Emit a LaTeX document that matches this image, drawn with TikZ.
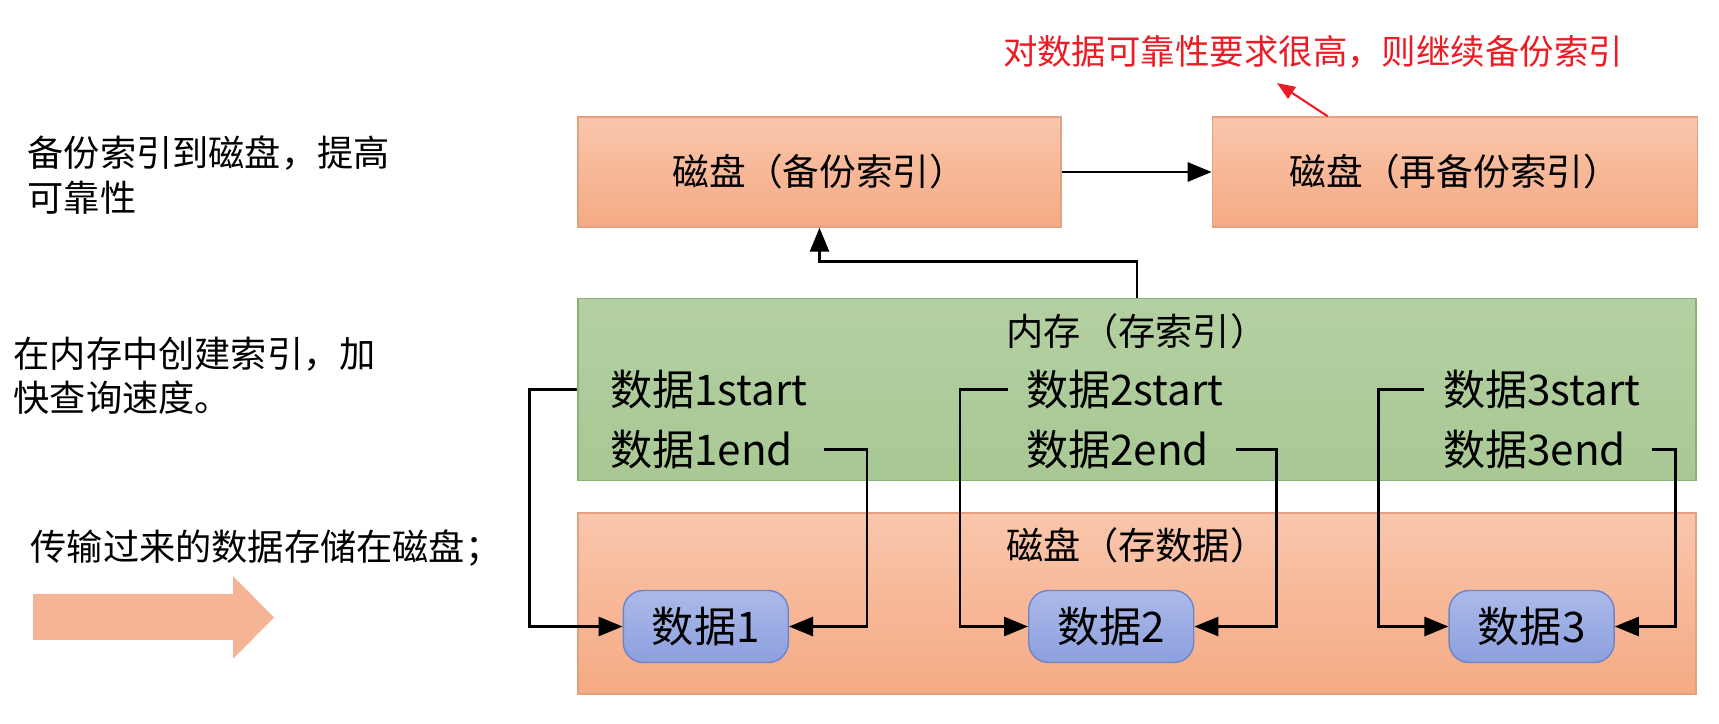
\documentclass[tikz,border=0pt]{standalone}
\usepackage{fontspec}
\setmainfont{Noto Sans CJK SC}
\usetikzlibrary{positioning, arrows.meta, calc}
\definecolor{salmonTop}{RGB}{249,198,172}
\definecolor{salmonBot}{RGB}{245,170,132}
\definecolor{salmonLine}{RGB}{228,160,128}
\definecolor{memTop}{RGB}{180,208,162}
\definecolor{memBot}{RGB}{168,200,148}
\definecolor{memLine}{RGB}{140,176,118}
\definecolor{dataTop}{RGB}{172,186,234}
\definecolor{dataBot}{RGB}{140,160,222}
\definecolor{dataLine}{RGB}{110,132,200}
\definecolor{noteRed}{RGB}{236,28,36}
\definecolor{flowFill}{RGB}{246,180,150}
\tikzset{
  diskbox/.style={rectangle, draw=salmonLine, top color=salmonTop, bottom color=salmonBot, minimum width=4.83cm, minimum height=1.10cm, text centered, font=\fontsize{10.45}{12.5}\selectfont},
  membox/.style={rectangle, draw=memLine, top color=memTop, bottom color=memBot, minimum width=11.18cm, minimum height=1.82cm},
  databox/.style={rectangle, rounded corners=2mm, draw=dataLine, top color=dataTop, bottom color=dataBot, minimum width=1.65cm, minimum height=0.72cm, text centered, font=\fontsize{12}{14}\selectfont},
  boxtitle/.style={font=\fontsize{10.6}{12.5}\selectfont},
  idxtext/.style={font=\fontsize{12}{14}\selectfont},
  sidetext/.style={align=left, font=\fontsize{10.3}{12.6}\selectfont},
  notetext/.style={text=noteRed, font=\fontsize{9.8}{12}\selectfont},
  flowarrow/.style={fill=flowFill}
}
\begin{document}
\begin{tikzpicture}[
    every node/.style={inner sep=0pt},
    arrow/.style={thick, ->, >={Triangle[length=2.4mm, width=1.9mm]}},
    notearrow/.style={noteRed, semithick, ->, >={Triangle[length=1.8mm, width=1.4mm]}}
  ]
  \useasboundingbox (0,0) rectangle (17.19,7.24);

  % --- Textos de la izquierda ---
  \node (txtbackup) [sidetext, anchor=west] at (0.27,5.49) {备份索引到磁盘，提高\\可靠性};
  \node (txtindex) [sidetext, anchor=west] at (0.13,3.485) {在内存中创建索引，加\\快查询速度。};
  \node (txtstore) [sidetext, anchor=west] at (0.30,1.76) {传输过来的数据存储在磁盘；};
  \fill [flowarrow] (0.33,0.84) -- (2.33,0.84) -- (2.33,0.65) -- (2.74,1.065)
    -- (2.33,1.48) -- (2.33,1.30) -- (0.33,1.30) -- cycle;

  % --- Discos de respaldo ---
  \node (disk1) [diskbox] at (8.195,5.52) {磁盘（备份索引）};
  \node (disk2) [diskbox, minimum width=4.85cm, right=1.5cm of disk1] {磁盘（再备份索引）};
  \node (note) [notetext] at (13.13,6.72) {对数据可靠性要求很高，则继续备份索引};
  \coordinate[below left=1.4mm and 3.6mm of note.south] (notetip);

  % --- Memoria e indices ---
  \node (mem) [membox, below=7mm of disk1.south west, anchor=north west] {};
  \node (memtitle) [boxtitle] at ($(mem.north)+(0,-0.34)$) {内存（存索引）};
  \node (s1) [idxtext, anchor=west] at ($(mem.west)+(0.32,0)$) {数据1start};
  \node (e1) [idxtext, anchor=west] at ($(s1.west)+(0,-0.60)$) {数据1end};
  \node (s2) [idxtext, anchor=west] at ($(mem.west)+(4.48,0)$) {数据2start};
  \node (e2) [idxtext, anchor=west] at ($(s2.west)+(0,-0.60)$) {数据2end};
  \node (s3) [idxtext, anchor=west] at ($(mem.west)+(8.65,0)$) {数据3start};
  \node (e3) [idxtext, anchor=west] at ($(s3.west)+(0,-0.60)$) {数据3end};

  % --- Disco de datos ---
  \node (store) [diskbox, minimum width=11.18cm, minimum height=1.81cm, below=3.1mm of mem] {};
  \node (storetitle) [boxtitle] at ($(store.north)+(0,-0.33)$) {磁盘（存数据）};
  \node (d1) [databox] at ($(store.south west)+(1.285,0.68)$) {数据1};
  \node (d2) [databox, right=2.39cm of d1] {数据2};
  \node (d3) [databox, right=2.54cm of d2] {数据3};

  % Puntos de giro de los conectores
  \coordinate[left=9.3mm of d1.west] (l1);
  \coordinate[left=6.8mm of d2.west] (l2);
  \coordinate[left=7mm of d3.west] (l3);
  \coordinate[right=7.8mm of d1.east] (r1);
  \coordinate[right=8.2mm of d2.east] (r2);
  \coordinate[right=6.1mm of d3.east] (r3);

  % --- Conexiones ---
  \draw [arrow] (disk1.east) -- (disk2.west);
  \draw [arrow] (mem.north) -- ++(0,0.36) -| (disk1.south);
  \draw [notearrow] ([xshift=11.6mm]disk2.north west) -- (notetip);

  \draw [arrow] (s1.west -| mem.west) -| (l1) -- (d1.west);
  \draw [arrow] ([xshift=-1.7mm]s2.west) -| (l2) -- (d2.west);
  \draw [arrow] ([xshift=-1.8mm]s3.west) -| (l3) -- (d3.west);
  \draw [arrow] ([xshift=3mm]e1.east) -| (r1) -- (d1.east);
  \draw [arrow] ([xshift=2.6mm]e2.east) -| (r2) -- (d2.east);
  \draw [arrow] ([xshift=2.5mm]e3.east) -| (r3) -- (d3.east);
\end{tikzpicture}
\end{document}
